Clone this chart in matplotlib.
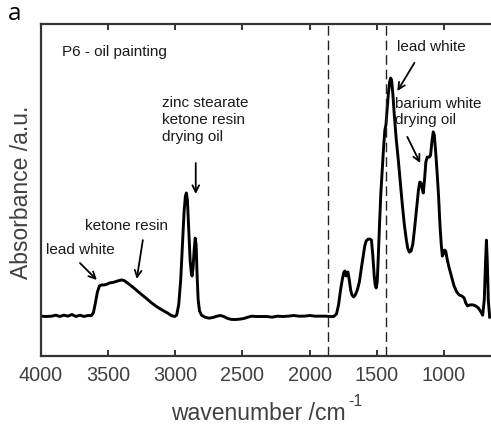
import numpy as np
import matplotlib
matplotlib.use("Agg")
import matplotlib.pyplot as plt

plt.rcParams['font.family'] = ['Liberation Sans', 'DejaVu Sans']

wavenumber = [4000, 3960, 3920, 3890, 3860, 3830, 3800, 3770, 3740, 3710, 3680, 3650,
              3625, 3610, 3595, 3580, 3565, 3550, 3530, 3510, 3490, 3460, 3430, 3400,
              3380, 3360, 3330, 3300, 3260, 3220, 3180, 3140, 3100, 3060, 3030, 3005,
              2990, 2975, 2960, 2945, 2935, 2925, 2918, 2910, 2900, 2890, 2880, 2875,
              2868, 2860, 2852, 2845, 2838, 2830, 2820, 2805, 2780, 2750, 2720, 2690,
              2665, 2640, 2610, 2580, 2550, 2520, 2490, 2460, 2430, 2400, 2360, 2320,
              2280, 2240, 2200, 2160, 2120, 2080, 2040, 2000, 1960, 1920, 1880, 1850,
              1820, 1800, 1785, 1770, 1755, 1745, 1737, 1730, 1722, 1715, 1705, 1695,
              1685, 1673, 1660, 1645, 1630, 1615, 1600, 1590, 1580, 1565, 1550, 1540,
              1530, 1520, 1512, 1505, 1497, 1490, 1480, 1470, 1460, 1450, 1440, 1432,
              1425, 1415, 1405, 1397, 1390, 1380, 1370, 1355, 1340, 1325, 1310, 1295,
              1280, 1270, 1258, 1245, 1232, 1220, 1205, 1190, 1180, 1170, 1160, 1154,
              1145, 1135, 1125, 1110, 1100, 1090, 1080, 1072, 1060, 1050, 1040, 1030,
              1020, 1012, 1005, 995, 987, 978, 965, 945, 925, 905, 887, 868,
              850, 838, 825, 805, 785, 765, 745, 725, 712, 700, 690, 684,
              678, 670, 660]
absorbance = [0.120, 0.119, 0.120, 0.123, 0.119, 0.123, 0.120, 0.125, 0.119, 0.123, 0.119, 0.122,
              0.122, 0.130, 0.160, 0.193, 0.211, 0.214, 0.214, 0.216, 0.220, 0.222, 0.226, 0.229,
              0.227, 0.221, 0.212, 0.202, 0.188, 0.175, 0.161, 0.149, 0.139, 0.130, 0.122, 0.119,
              0.123, 0.154, 0.229, 0.349, 0.434, 0.482, 0.491, 0.470, 0.380, 0.289, 0.247, 0.241,
              0.265, 0.319, 0.355, 0.334, 0.244, 0.169, 0.136, 0.123, 0.117, 0.114, 0.116, 0.120,
              0.122, 0.119, 0.113, 0.110, 0.110, 0.111, 0.113, 0.117, 0.120, 0.119, 0.119, 0.119,
              0.117, 0.120, 0.119, 0.120, 0.122, 0.120, 0.120, 0.122, 0.120, 0.120, 0.120, 0.119,
              0.119, 0.127, 0.154, 0.199, 0.235, 0.253, 0.256, 0.241, 0.250, 0.253, 0.229, 0.199,
              0.184, 0.178, 0.184, 0.199, 0.223, 0.265, 0.304, 0.331, 0.346, 0.352, 0.352, 0.349,
              0.304, 0.244, 0.214, 0.205, 0.223, 0.289, 0.395, 0.491, 0.560, 0.626, 0.681, 0.696,
              0.735, 0.786, 0.825, 0.837, 0.831, 0.786, 0.726, 0.651, 0.590, 0.521, 0.455, 0.395,
              0.349, 0.325, 0.313, 0.316, 0.337, 0.380, 0.440, 0.500, 0.524, 0.521, 0.500, 0.491,
              0.530, 0.584, 0.599, 0.599, 0.605, 0.645, 0.675, 0.666, 0.605, 0.545, 0.479, 0.395,
              0.334, 0.301, 0.307, 0.319, 0.316, 0.295, 0.271, 0.241, 0.211, 0.193, 0.184, 0.181,
              0.175, 0.160, 0.151, 0.154, 0.154, 0.151, 0.145, 0.133, 0.123, 0.169, 0.289, 0.349,
              0.289, 0.169, 0.117]

# reference lines separating the spectral regions
region_edges = [1860, 1432]

fig = plt.figure(figsize=(4.91, 4.26), dpi=100)
ax = fig.add_axes([0.0835, 0.1643, 0.9165, 0.7794])

ax.plot(wavenumber, absorbance, color='black', lw=2.1, solid_joinstyle='round')
for edge in region_edges:
    ax.axvline(edge, color='#222222', lw=1.0, dashes=(7, 3.5))

ax.set_xlim(4000, 650)
ax.set_ylim(0, 1)
ax.set_xticks([4000, 3500, 3000, 2500, 2000, 1500, 1000])
ax.set_yticks([])
ax.tick_params(axis='x', direction='in', top=True, length=4.5, width=1.4,
               color='#333333', labelsize=14.3, labelcolor='#404040', pad=7)
for side in ['left', 'bottom', 'top']:
    ax.spines[side].set_linewidth(1.6)
    ax.spines[side].set_color('#333333')
ax.spines['right'].set_visible(False)

# axis titles, with a plain hyphen in the cm-1 exponent
fig.text(258 / 491, 1 - 413 / 426, 'wavenumber /cm', fontsize=16.5,
         color='#404040', ha='center', va='center')
fig.text(348 / 491, 1 - 401 / 426, '-1', fontsize=11.5,
         color='#404040', ha='left', va='center')
fig.text(22 / 491, 1 - 192 / 426, 'Absorbance /a.u.', fontsize=16.5,
         color='#404040', ha='center', va='center', rotation=90)
fig.text(8 / 491, 1 - 20 / 426, 'a', fontsize=17.5, family=['Open Sans', 'DejaVu Sans'],
         color='black', ha='left', va='baseline')

ax.text(3844, 0.916, 'P6 - oil painting', fontsize=11, color='#1a1a1a', va='center')

arrow = dict(arrowstyle='->', color='black', lw=1.3,
             shrinkA=0, shrinkB=0, mutation_scale=12)
ax.text(3100, 0.711, 'zinc stearate\nketone resin\ndrying oil', fontsize=11,
        color='#1a1a1a', va='center', ha='left', linespacing=1.25)
ax.annotate('', xy=(2848, 0.488), xytext=(2848, 0.581), arrowprops=arrow)

ax.text(1347, 0.931, 'lead white', fontsize=11, color='#1a1a1a', va='center')
ax.annotate('', xy=(1347, 0.798), xytext=(1220, 0.883), arrowprops=arrow)

ax.text(1362, 0.735, 'barium white\ndrying oil', fontsize=11, color='#1a1a1a',
        va='center', ha='left', linespacing=1.25)
ax.annotate('', xy=(1177, 0.581), xytext=(1273, 0.660), arrowprops=arrow)

ax.text(3673, 0.392, 'ketone resin', fontsize=11, color='#1a1a1a', va='center')
ax.annotate('', xy=(3287, 0.232), xytext=(3242, 0.349), arrowprops=arrow)

ax.text(3963, 0.319, 'lead white', fontsize=11, color='#1a1a1a', va='center')
ax.annotate('', xy=(3584, 0.229), xytext=(3710, 0.280), arrowprops=arrow)

fig.savefig('out.png', dpi=100)
